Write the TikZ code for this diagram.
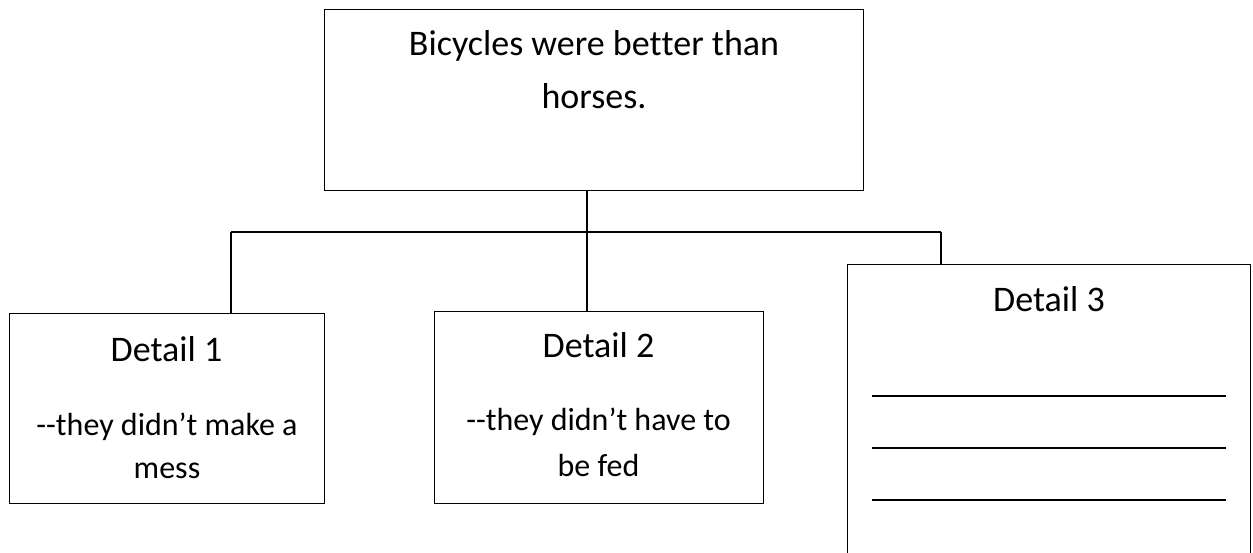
\documentclass[tikz,border=0pt]{standalone}
\usepackage{fontspec}
\setmainfont{Carlito}[Ligatures={NoCommon}]
\begin{document}
\begin{tikzpicture}[x=0.5pt,y=-0.5pt,
  boxnode/.style={draw=black,line width=0.6pt,inner sep=0pt,anchor=north west,fill=white},
  headtxt/.style={anchor=base,inner sep=0pt,font=\fontsize{18pt}{21pt}\selectfont},
  bodytxt/.style={anchor=base,inner sep=0pt,font=\fontsize{16pt}{19pt}\selectfont},
  conn/.style={line width=0.6pt},
  blank/.style={line width=1pt}]
\useasboundingbox (0,0) rectangle (1253,552);
\clip (0,0) rectangle (1253,552);
\fill[white] (0,0) rectangle (1253,552);
% boxes
\node[boxnode,minimum width=269.5pt,minimum height=90.5pt] (top) at (324,9) {};
\node[boxnode,minimum width=157.5pt,minimum height=95pt] (d1) at (9,313) {};
\node[boxnode,minimum width=164.5pt,minimum height=96pt] (d2) at (434,311) {};
\node[boxnode,minimum width=201.5pt,minimum height=150pt] (d3) at (847,264) {};
% texts
\node[headtxt] (t1) at (594,55) {Bicycles were bet\kern0pt ter than};
\node[headtxt] (t2) at (594,108) {horses.};
\node[headtxt] (h1) at (166.5,361) {Detail 1};
\node[bodytxt] (b1a) at (167,435) {-\kern0pt-they didn’t make a};
\node[bodytxt] (b1b) at (167,478) {mess};
\node[headtxt] (h2) at (598.5,357) {Detail 2};
\node[bodytxt] (b2a) at (598.5,430) {-\kern0pt-they didn’t have to};
\node[bodytxt] (b2b) at (598.5,476) {be fed};
\node[headtxt] (h3) at (1049,311) {Detail 3};
% blank lines
\coordinate (l1a) at (872,396); \coordinate (l1b) at (1226,396);
\coordinate (l2a) at (872,448); \coordinate (l2b) at (1226,448);
\coordinate (l3a) at (872,500); \coordinate (l3b) at (1226,500);
\draw[blank] (l1a) -- (l1b);
\draw[blank] (l2a) -- (l2b);
\draw[blank] (l3a) -- (l3b);
% connectors
\coordinate (hl) at (231,232);
\coordinate (hr) at (941,232);
\coordinate (hm) at (587,232);
\draw[conn] (hm |- top.south) -- (hm |- d2.north);
\draw[conn] (hl) -- (hr);
\draw[conn] (hl) -- (hl |- d1.north);
\draw[conn] (hr) -- (hr |- d3.north);
\end{tikzpicture}
\end{document}
